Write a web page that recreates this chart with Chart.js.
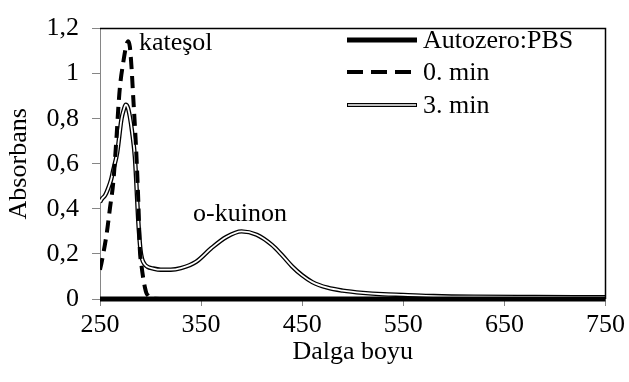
<!DOCTYPE html>
<html><head><meta charset="utf-8">
<script src="https://cdn.jsdelivr.net/npm/chart.js@4.4.0/dist/chart.umd.min.js"></script>
<style>html,body{margin:0;padding:0;background:#fff;}</style>
</head><body>
<canvas id="c" width="629" height="382"></canvas>
<script>
// ---- data ----
const seriesNames = ['Autozero:PBS', '0. min', '3. min'];

const wavelengthsAutozero = [250, 350, 450, 550, 650, 750];
const valuesAutozero      = [0, 0, 0, 0, 0, 0];

const wavelengths0min = [250, 251.7, 256.6, 259.9, 263.1, 266.5, 268, 269.7, 273, 276, 277.9, 279.5, 281.3, 282.8, 284.5, 286.2, 288, 289.4, 291, 292.7, 294.5, 296, 297.5, 299, 302, 320, 400, 500, 600, 700, 750];
const values0min      = [0.13, 0.165, 0.29, 0.405, 0.517, 0.73, 0.84, 0.94, 1.05, 1.125, 1.144, 1.12, 1.02, 0.90, 0.77, 0.62, 0.42, 0.22, 0.15, 0.094, 0.05, 0.025, 0.016, 0.008, 0.002, 0, 0, 0, 0, 0, 0];

const wavelengths3min = [250, 252, 255, 258, 261, 263, 267, 271.3, 273.5, 275.5, 277.5, 279.5, 281.8, 284.5, 286, 287.8, 290, 291.5, 294, 297, 302, 310, 320, 330, 345, 360, 375, 390, 405, 420, 430, 440, 450, 460, 475, 490, 510, 530, 550, 580, 620, 680, 750];
const values3min      = [0.43, 0.445, 0.46, 0.49, 0.53, 0.57, 0.65, 0.80, 0.84, 0.862, 0.85, 0.81, 0.74, 0.63, 0.51, 0.35, 0.22, 0.18, 0.155, 0.143, 0.136, 0.13, 0.13, 0.137, 0.165, 0.225, 0.275, 0.30, 0.285, 0.24, 0.195, 0.145, 0.105, 0.075, 0.05, 0.037, 0.027, 0.021, 0.018, 0.013, 0.01, 0.009, 0.008];

const xTickValues = [250, 350, 450, 550, 650, 750];
const yTickValues = [0, 0.2, 0.4, 0.6, 0.8, 1.0, 1.2];
const yTickLabels = ['0', '0,2', '0,4', '0,6', '0,8', '1', '1,2'];

const xAxisTitle = 'Dalga boyu';
const yAxisTitle = 'Absorbans';

const annotationTexts = ['kateşol', 'o-kuinon'];
const annotationX     = [288.5, 342];
const annotationY     = [1.105, 0.348];

// ---- chart ----
const FONT = "'Liberation Serif', 'Times New Roman', serif";
const FSIZE = 26;
const font = {family: FONT, size: FSIZE};
const pts = (xs, ys) => xs.map((x, i) => ({x: x, y: ys[i]}));

const decorPlugin = {
  id: 'decor',
  afterDraw(chart) {
    const ctx = chart.ctx, a = chart.chartArea;
    const xs = chart.scales.x, ys = chart.scales.y;
    ctx.save();
    // top & right frame
    ctx.strokeStyle = '#000'; ctx.lineWidth = 1.5;
    ctx.beginPath();
    ctx.moveTo(a.left, a.top); ctx.lineTo(a.right, a.top); ctx.lineTo(a.right, a.bottom);
    ctx.stroke();
    // annotations
    ctx.fillStyle = '#000';
    ctx.font = FSIZE + 'px ' + FONT;
    ctx.textAlign = 'left'; ctx.textBaseline = 'alphabetic';
    annotationTexts.forEach((t, i) => {
      ctx.fillText(t, xs.getPixelForValue(annotationX[i]), ys.getPixelForValue(annotationY[i]));
    });
    // legend
    const lx0 = 347, lx1 = 417, tx = 423;
    const rows = [40, 72, 105];
    ctx.textBaseline = 'middle';
    ctx.lineCap = 'butt';
    ctx.strokeStyle = '#000'; ctx.lineWidth = 5; ctx.setLineDash([]);
    ctx.beginPath(); ctx.moveTo(lx0, rows[0]); ctx.lineTo(lx1, rows[0]); ctx.stroke();
    ctx.lineWidth = 4; ctx.setLineDash([16, 8]);
    ctx.beginPath(); ctx.moveTo(lx0, rows[1]); ctx.lineTo(lx1, rows[1]); ctx.stroke();
    ctx.setLineDash([]);
    ctx.lineWidth = 4; ctx.strokeStyle = '#000';
    ctx.beginPath(); ctx.moveTo(lx0, rows[2]); ctx.lineTo(lx1, rows[2]); ctx.stroke();
    ctx.lineWidth = 1.6; ctx.strokeStyle = '#fff';
    ctx.beginPath(); ctx.moveTo(lx0 + 1, rows[2]); ctx.lineTo(lx1 - 1, rows[2]); ctx.stroke();
    ctx.fillStyle = '#000';
    seriesNames.forEach((n, i) => ctx.fillText(n, tx, rows[i] + 1));
    ctx.restore();
  }
};

new Chart(document.getElementById('c'), {
  type: 'line',
  data: {
    datasets: [
      {label: seriesNames[0], data: pts(wavelengthsAutozero, valuesAutozero), borderColor: '#000', borderWidth: 5, pointRadius: 0, clip: false, tension: 0},
      {label: seriesNames[1], data: pts(wavelengths0min, values0min), borderColor: '#000', borderWidth: 4, borderDash: [12, 7], pointRadius: 0, cubicInterpolationMode: 'monotone'},
      {label: seriesNames[2] + ' inner', data: pts(wavelengths3min, values3min), borderColor: '#fff', borderWidth: 1.8, pointRadius: 0, cubicInterpolationMode: 'monotone'},
      {label: seriesNames[2], data: pts(wavelengths3min, values3min), borderColor: '#000', borderWidth: 4.4, pointRadius: 0, cubicInterpolationMode: 'monotone'}
    ]
  },
  options: {
    responsive: false,
    devicePixelRatio: 1,
    animation: false,
    events: [],
    layout: {padding: {left: 0, right: 22, top: 15, bottom: 0}},
    plugins: {legend: {display: false}, tooltip: {enabled: false}},
    scales: {
      x: {
        type: 'linear', min: 250, max: 750,
        afterBuildTicks: s => { s.ticks = xTickValues.map(v => ({value: v})); },
        ticks: {font: font, color: '#000', padding: 4, maxRotation: 0, autoSkip: false, callback: v => String(v)},
        grid: {drawOnChartArea: false, tickLength: 7, color: '#868686'},
        border: {color: '#868686', width: 1},
        title: {display: true, text: xAxisTitle, font: font, color: '#000', padding: {top: 0, bottom: 14}},
        afterFit: s => { s.height = 83; }
      },
      y: {
        type: 'linear', min: 0, max: 1.2,
        afterBuildTicks: s => { s.ticks = yTickValues.map(v => ({value: v})); },
        ticks: {font: font, color: '#000', padding: 13, autoSkip: false, callback: (v, i) => yTickLabels[i]},
        grid: {drawOnChartArea: false, tickLength: 8, color: '#868686'},
        border: {color: '#868686', width: 1},
        title: {display: true, text: yAxisTitle, font: font, color: '#000', padding: {top: 4, bottom: 0}},
        afterFit: s => { s.width = 100; }
      }
    }
  },
  plugins: [decorPlugin]
});
</script>
</body></html>
